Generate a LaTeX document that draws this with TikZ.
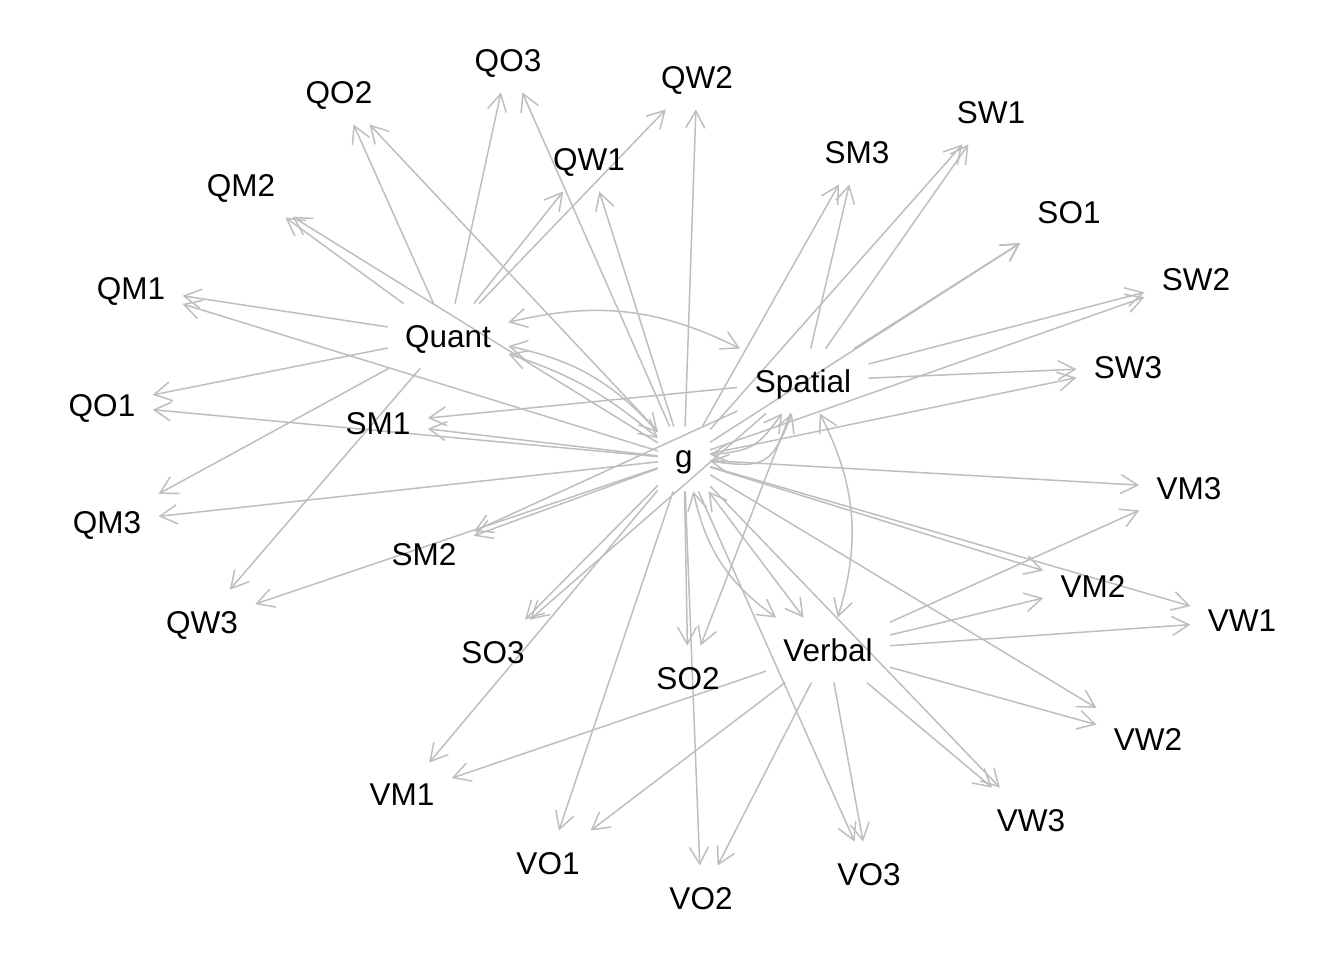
\documentclass[tikz,border=0pt]{standalone}
\usepackage{fontspec}
\setmainfont{Liberation Sans}
\usetikzlibrary{arrows.meta,backgrounds}
\definecolor{edgegrey}{HTML}{BEBEBE}
\begin{document}
\begin{tikzpicture}[x=0.5pt,y=-0.5pt,
  >={Straight Barb[length=8.5pt,width=9.5pt]},
  vtx/.style={rectangle, inner xsep=8.5pt, inner ysep=0pt, minimum height=32pt,
    text depth=0pt, font=\fontsize{15.75}{18}\selectfont, text=black},
  ed/.style={draw=edgegrey, line width=0.75pt, ->},
  edb/.style={draw=edgegrey, line width=0.75pt, <->}]
\useasboundingbox (0,0) rectangle (1344,960);

% latent variables
\node[vtx] (g) at (684,459) {g};
\node[vtx] (Quant) at (448,336) {Quant};
\node[vtx] (Spatial) at (803,381) {Spatial};
\node[vtx] (Verbal) at (828,650) {Verbal};

% quantitative indicators
\node[vtx] (QO3) at (508,60) {QO3};
\node[vtx] (QW2) at (697,77) {QW2};
\node[vtx] (QO2) at (339,92) {QO2};
\node[vtx] (QW1) at (589,159) {QW1};
\node[vtx] (QM2) at (241,185) {QM2};
\node[vtx] (QM1) at (131,288) {QM1};
\node[vtx] (QO1) at (102,405) {QO1};
\node[vtx] (QM3) at (107,522) {QM3};
\node[vtx] (QW3) at (202,622) {QW3};

% spatial indicators
\node[vtx] (SM1) at (378,423) {SM1};
\node[vtx] (SM2) at (424,554) {SM2};
\node[vtx] (SO3) at (493,652) {SO3};
\node[vtx] (SO2) at (688,678) {SO2};
\node[vtx] (SM3) at (857,152) {SM3};
\node[vtx] (SW1) at (991,112) {SW1};
\node[vtx] (SO1) at (1069,212) {SO1};
\node[vtx] (SW2) at (1196,279) {SW2};
\node[vtx] (SW3) at (1128,367) {SW3};

% verbal indicators
\node[vtx] (VM3) at (1189,488) {VM3};
\node[vtx] (VM2) at (1093,586) {VM2};
\node[vtx] (VW1) at (1242,621) {VW1};
\node[vtx] (VW2) at (1148,739) {VW2};
\node[vtx] (VW3) at (1031,820) {VW3};
\node[vtx] (VO3) at (869,874) {VO3};
\node[vtx] (VO2) at (701,898) {VO2};
\node[vtx] (VO1) at (548,863) {VO1};
\node[vtx] (VM1) at (402,795) {VM1};

\begin{pgfonlayer}{background}
% general factor loadings
\foreach \t in {QM1,QM2,QM3,QO1,QO2,QO3,QW1,QW2,QW3,
                SM1,SM2,SM3,SO1,SO2,SO3,SW1,SW2,SW3,
                VM1,VM2,VM3,VO1,VO2,VO3,VW1,VW2,VW3}
  \draw[ed] (g) -- (\t);

% group factor loadings
\foreach \t in {QM1,QM2,QM3,QO1,QO2,QO3,QW1,QW2,QW3}
  \draw[ed] (Quant) -- (\t);
\foreach \t in {SM1,SM2,SM3,SO1,SO2,SO3,SW1,SW2,SW3}
  \draw[ed] (Spatial) -- (\t);
\foreach \t in {VM1,VM2,VM3,VO1,VO2,VO3,VW1,VW2,VW3}
  \draw[ed] (Verbal) -- (\t);

% links between latent variables
\draw[edb] (g) to[bend right=11] (Quant);
\draw[edb] (g) to[bend right=18] (Quant);
\draw[edb] (g) to[bend right=24, looseness=1.3] (Spatial);
\draw[edb] (g) to[bend right=38, looseness=1.5] (Spatial);
\draw[edb] (g) -- (Verbal);
\draw[edb] (g) to[bend right=21] (Verbal);
\draw[edb] (Spatial) to[bend right=20] (Quant);
\draw[edb] (Verbal) to[bend right=22] (Spatial);
\end{pgfonlayer}
\end{tikzpicture}
\end{document}
